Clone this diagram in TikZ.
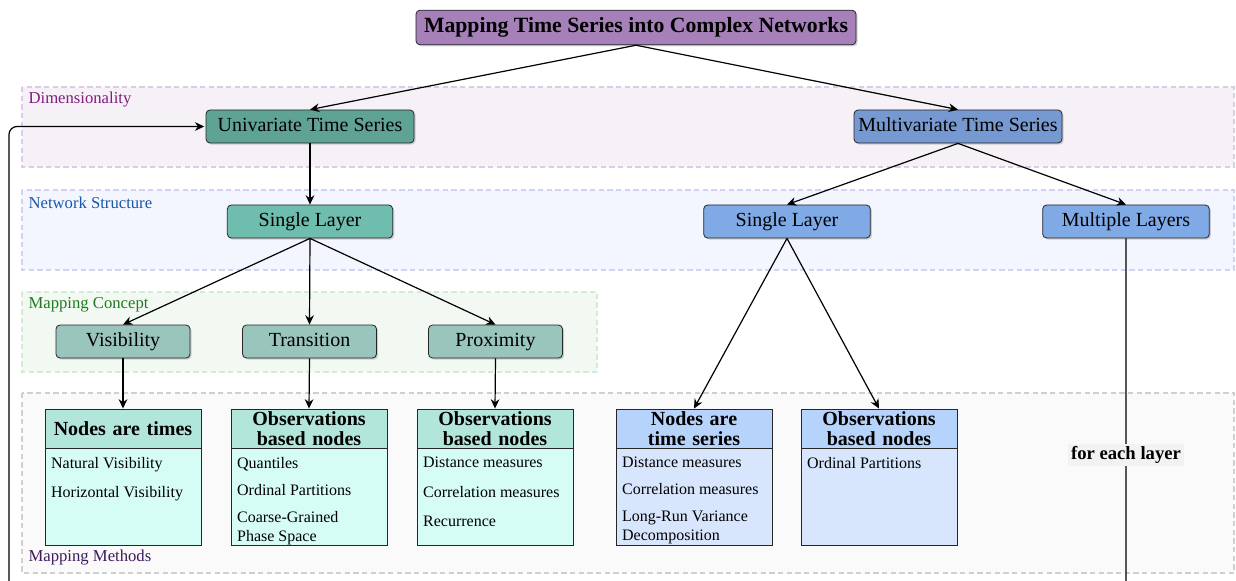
\documentclass[tikz,border=0pt]{standalone}
\usepackage{fontspec}
\setmainfont{Liberation Serif}
\usetikzlibrary{positioning,arrows.meta,shadows}

\definecolor{titlefill}{HTML}{A680B8}
\definecolor{unifill}{HTML}{5FA394}
\definecolor{slfill}{HTML}{6FBDAE}
\definecolor{conceptfill}{HTML}{9AC5BC}
\definecolor{tealhead}{HTML}{B3E6DA}
\definecolor{tealbody}{HTML}{D6FDF5}
\definecolor{multifill}{HTML}{7599D0}
\definecolor{bluefill}{HTML}{7FAAE6}
\definecolor{bluehead}{HTML}{B5D3FB}
\definecolor{bluebody}{HTML}{D7E6FD}
\definecolor{dimfill}{HTML}{F6F1F7}
\definecolor{dimline}{HTML}{DCCBE4}
\definecolor{dimtext}{HTML}{7E1E7E}
\definecolor{netfill}{HTML}{F3F6FE}
\definecolor{netline}{HTML}{CDD3F0}
\definecolor{nettext}{HTML}{1A56A8}
\definecolor{concfill}{HTML}{F2F9F2}
\definecolor{concline}{HTML}{D3EAD3}
\definecolor{conctext}{HTML}{217A21}
\definecolor{methfill}{HTML}{FAFAFA}
\definecolor{methline}{HTML}{CFCFCF}
\definecolor{methtext}{HTML}{3D1A5C}

\begin{document}
\begin{tikzpicture}[x=0.75pt,y=-0.75pt,>={Stealth[length=7pt,width=6.5pt]},line width=0.9pt,
	band/.style={draw=#1,dash pattern=on 4pt off 2.5pt,line width=0.8pt},
	bandlabel/.style={anchor=west,inner sep=0pt,text=#1,font=\fontsize{12.5}{14}\selectfont},
	box/.style={draw=black!85,fill=#1,line width=0.6pt,rounded corners=3pt,minimum height=24.75pt,inner sep=2pt,text height=10.5pt,text depth=3pt,font=\fontsize{15}{17}\selectfont,drop shadow={shadow xshift=1.2pt,shadow yshift=-1.2pt,opacity=0.35}},
	mhead/.style={draw=black!85,fill=#1,line width=0.7pt,minimum width=117pt,minimum height=29.25pt,text width=112pt,align=center,inner sep=1pt,font=\bfseries\fontsize{15}{14.5}\selectfont},
	mbody/.style={draw=black!85,fill=#1,line width=0.7pt,minimum width=117pt,minimum height=72.75pt,inner sep=0pt},
	mlist/.style={anchor=north west,inner sep=0pt,align=left,font=\fontsize{12}{14.25}\selectfont}]
	\useasboundingbox (0,0) rectangle (1236,581);
	\clip (0,0) rectangle (1236,581);

	\path[band=dimline,fill=dimfill] (22,87) rectangle (1234,167);
	\path[band=netline,fill=netfill] (22,190) rectangle (1234,270);
	\path[band=concline,fill=concfill] (22,292) rectangle (597,372);
	\path[band=methline,fill=methfill] (22,393) rectangle (1234,573);
	\node[bandlabel=dimtext] (dimLbl) at (28,99.5) {Dimensionality};
	\node[bandlabel=nettext] (netLbl) at (28,202.5) {Network Structure};
	\node[bandlabel=conctext] (concLbl) at (28,304.5) {Mapping Concept};
	\node[bandlabel=methtext] (methLbl) at (28,557.5) {Mapping Methods};

	\node[box=titlefill,minimum width=330pt,minimum height=26pt,font=\bfseries\fontsize{16.3}{18}\selectfont] (title) at (636,27.5) {Mapping Time Series into Complex Networks};
	\node[box=unifill,minimum width=156pt] (uni) at (310,126.5) {Univariate Time Series};
	\node[box=multifill,minimum width=156pt] (multi) at (958,126.5) {Multivariate Time Series};
	\node[box=slfill,minimum width=124pt] (slU) at (310,221.5) {Single Layer};
	\node[box=bluefill,minimum width=125pt] (slM) at (787,221.5) {Single Layer};
	\node[box=bluefill,minimum width=125pt] (multiL) at (1126,221.5) {Multiple Layers};
	\node[box=conceptfill,minimum width=100.5pt] (vis) at (123,341.5) {Visibility};
	\node[box=conceptfill,minimum width=100.5pt] (trans) at (309.5,341.5) {Transition};
	\node[box=conceptfill,minimum width=100.5pt] (prox) at (495.5,341.5) {Proximity};

	\node[mhead=tealhead] (hdVis) at (123,428.5) {Nodes are times};
	\node[mbody=tealbody,below=0pt of hdVis] (bdVis) {};
	\node[mlist,below right=6pt and 4.5pt of bdVis.north west] (lsVis) {Natural Visibility\\[8pt]Horizontal Visibility};

	\node[mhead=tealhead] (hdTrans) at (309,428.5) {Observations\\based nodes};
	\node[mbody=tealbody,below=0pt of hdTrans] (bdTrans) {};
	\node[mlist,below right=6pt and 4.5pt of bdTrans.north west] (lsTrans) {Quantiles\\[6pt]Ordinal Partitions\\[6pt]Coarse-Grained\\Phase Space};

	\node[mhead=tealhead] (hdProx) at (495,428.5) {Observations\\based nodes};
	\node[mbody=tealbody,below=0pt of hdProx] (bdProx) {};
	\node[mlist,below right=6pt and 4.5pt of bdProx.north west] (lsProx) {Distance measures\\[8pt]Correlation measures\\[8pt]Recurrence};

	\node[mhead=bluehead] (hdSer) at (694,428.5) {Nodes are\\time series};
	\node[mbody=bluebody,below=0pt of hdSer] (bdSer) {};
	\node[mlist,below right=6pt and 4.5pt of bdSer.north west] (lsSer) {Distance measures\\[6pt]Correlation measures\\[6pt]Long-Run Variance\\Decomposition};

	\node[mhead=bluehead] (hdObs) at (879,428.5) {Observations\\based nodes};
	\node[mbody=bluebody,below=0pt of hdObs] (bdObs) {};
	\node[mlist,below right=6pt and 4.5pt of bdObs.north west] (lsObs) {Ordinal Partitions};

	\path[->] (title.south) edge (uni.north)
		(title.south) edge (multi.north)
		(uni.south) edge (slU.north)
		(multi.south) edge (slM.north)
		(multi.south) edge (multiL.north)
		(slU.south) edge (vis.north)
		(slU.south) edge (trans.north)
		(slU.south) edge (prox.north)
		(vis.south) edge (hdVis.north)
		(trans.south) edge (hdTrans.north)
		(prox.south) edge (hdProx.north)
		(slM.south) edge (hdSer.north)
		(slM.south) edge (hdObs.north);

	\coordinate (loopL) at (9,600);
	\draw[->,rounded corners=6pt,shorten >=1pt] (multiL.south) |- (loopL) |- (uni.west);
	\node[fill=black!5,inner sep=2pt,font=\bfseries\fontsize{14}{16}\selectfont] (eachLayer) at (1126,455) {for each layer};
\end{tikzpicture}
\end{document}
